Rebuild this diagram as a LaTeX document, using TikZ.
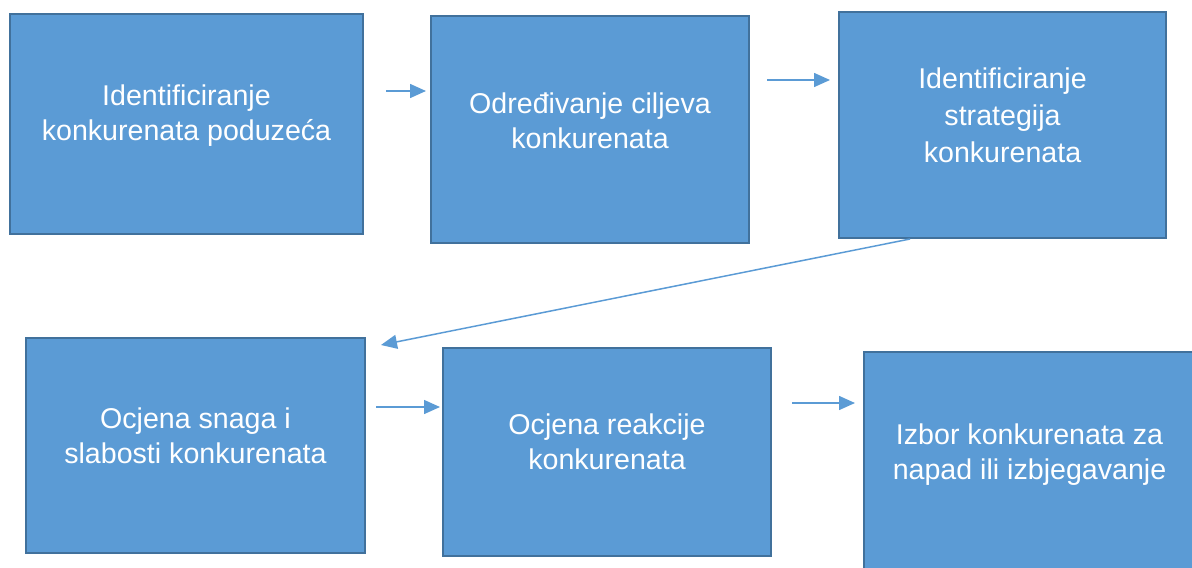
\documentclass[tikz,border=0pt]{standalone}
\usepackage{fontspec}
\setmainfont{Liberation Sans}
\usetikzlibrary{arrows.meta,calc}
\definecolor{boxfill}{RGB}{91,155,213}
\definecolor{boxline}{RGB}{65,113,156}
\begin{document}
\begin{tikzpicture}[x=0.5pt,y=-0.5pt,
		stage/.style={draw=boxline,fill=boxfill,line width=1pt,inner sep=0pt},
		txt/.style={text=white,align=center,font=\fontsize{14.3pt}{17.5pt}\selectfont},
		flow/.style={draw=boxfill,line width=0.75pt,-{Triangle[length=8pt,width=7pt]}}]
		\useasboundingbox (0,0) rectangle (1192,567);
		\clip (0,0) rectangle (1192,567);
		\node[stage,minimum width=176.5pt,minimum height=110pt] (s1) at (186.5,124) {};
		\node[stage,minimum width=159pt,minimum height=113.5pt] (s2) at (590,129.5) {};
		\node[stage,minimum width=163.5pt,minimum height=113pt] (s3) at (1002.5,125) {};
		\node[stage,minimum width=169.5pt,minimum height=107.5pt] (s4) at (195.5,445.5) {};
		\node[stage,minimum width=164pt,minimum height=104pt] (s5) at (607,452) {};
		\node[stage,minimum width=165.5pt,minimum height=110.5pt] (s6) at (1029.5,462.5) {};
		\node[txt] (t1) at ($(s1.center)+(0,-8)$) {Identificiranje\\konkurenata poduzeća};
		\node[txt] (t2) at ($(s2.center)+(0,-9)$) {Određivanje ciljeva\\konkurenata};
		\node[txt,font=\fontsize{14.3pt}{18.5pt}\selectfont] (t3) at ($(s3.center)+(0,-10)$) {Identificiranje\\strategija\\konkurenata};
		\node[txt] (t4) at ($(s4.center)+(0,-10)$) {Ocjena snaga i\\slabosti konkurenata};
		\node[txt] (t5) at ($(s5.center)+(0,-10)$) {Ocjena reakcije\\konkurenata};
		\node[txt] (t6) at ($(s6.center)+(0,-8)$) {Izbor konkurenata za\\napad ili izbjegavanje};
		\draw[flow] ($(s1.east)+(22,-33)$) -- ($(s2.west)+(-4,-38.5)$);
		\draw[flow] ($(s2.east)+(17,-49.5)$) -- ($(s3.west)+(-8,-45)$);
		\draw[flow] ($(s3.south)+(-92.5,0)$) -- ($(s4.north east)+(15,8)$);
		\draw[flow] ($(s4.east)+(10,-38.5)$) -- ($(s5.west)+(-2,-45)$);
		\draw[flow] ($(s5.east)+(20,-49)$) -- ($(s6.west)+(-8,-59.5)$);
	\end{tikzpicture}
\end{document}
